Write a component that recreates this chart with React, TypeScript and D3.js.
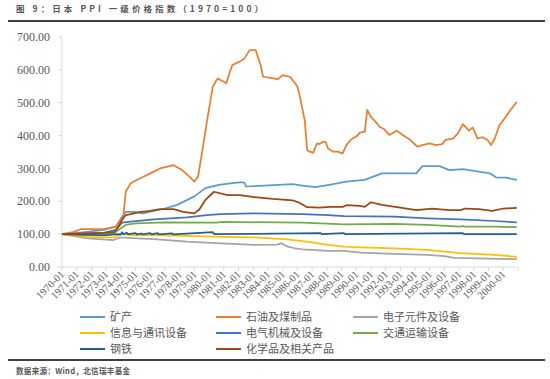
import React from "react";
import * as d3 from "d3";

const START_YEAR = 1970;
const N_MONTHS = 372;
const yTicks = [0, 100, 200, 300, 400, 500, 600, 700];
const tickLabels = d3.range(1970, 2001).map((y) => `${y}-01`);

const mining: [string, number][] = [
  ["1970-01", 100], ["1970-11", 102], ["1972-11", 113], ["1973-09", 123], ["1974-02", 153],
  ["1974-05", 168], ["1974-12", 168], ["1975-07", 163], ["1977-01", 178], ["1977-11", 189],
  ["1979-01", 215], ["1979-10", 240], ["1980-09", 250], ["1981-08", 255], ["1982-04", 258],
  ["1982-06", 256], ["1982-07", 245], ["1983-06", 247], ["1985-09", 252], ["1986-05", 248],
  ["1987-04", 243], ["1988-03", 250], ["1989-05", 260], ["1990-08", 265], ["1991-03", 275],
  ["1991-10", 285], ["1994-02", 285], ["1994-07", 307], ["1995-09", 307], ["1996-05", 295],
  ["1997-04", 298], ["1999-02", 285], ["1999-07", 273], ["2000-03", 272], ["2000-12", 265],
];

const petroleum: [string, number][] = [
  ["1970-01", 100], ["1970-11", 107], ["1971-04", 115], ["1972-11", 115], ["1973-09", 123],
  ["1974-03", 153], ["1974-05", 229], ["1974-09", 255], ["1975-02", 265], ["1976-01", 285],
  ["1976-09", 300], ["1977-08", 310], ["1978-03", 295], ["1978-09", 275], ["1979-01", 260],
  ["1979-04", 275], ["1979-08", 366], ["1979-11", 437], ["1980-04", 549], ["1980-08", 574],
  ["1981-01", 564], ["1981-03", 559], ["1981-06", 594], ["1981-08", 615], ["1982-02", 625],
  ["1982-06", 635], ["1982-10", 660], ["1983-03", 660], ["1983-07", 615], ["1983-09", 579],
  ["1984-06", 574], ["1984-09", 571], ["1985-01", 584], ["1985-07", 579], ["1986-01", 550],
  ["1986-03", 520], ["1986-07", 447], ["1986-09", 356], ["1986-11", 351], ["1987-02", 348],
  ["1987-05", 376], ["1987-07", 374], ["1987-10", 381], ["1987-12", 381], ["1988-02", 361],
  ["1988-06", 351], ["1988-10", 351], ["1989-02", 346], ["1989-05", 371], ["1989-09", 389],
  ["1990-01", 397], ["1990-04", 409], ["1990-08", 412], ["1990-10", 478], ["1991-01", 457],
  ["1991-06", 437], ["1991-08", 427], ["1991-12", 419], ["1992-04", 402], ["1992-10", 415],
  ["1993-03", 402], ["1993-09", 387], ["1994-03", 366], ["1994-07", 371], ["1995-01", 376],
  ["1995-06", 371], ["1995-11", 374], ["1996-02", 387], ["1996-08", 391], ["1996-12", 407],
  ["1997-04", 435], ["1997-09", 415], ["1997-12", 425], ["1998-04", 391], ["1998-08", 395],
  ["1998-12", 387], ["1999-03", 371], ["1999-06", 391], ["1999-10", 432], ["2000-02", 452],
  ["2000-06", 473], ["2000-09", 488], ["2000-12", 503],
];

const electronic: [string, number][] = [
  ["1970-01", 100], ["1971-10", 87], ["1973-07", 82], ["1973-12", 90], ["1975-03", 87],
  ["1976-04", 85], ["1978-07", 77], ["1980-11", 72], ["1983-02", 67], ["1984-08", 68],
  ["1984-12", 72], ["1985-05", 62], ["1985-11", 57], ["1986-05", 54], ["1987-01", 52],
  ["1988-02", 49], ["1989-03", 49], ["1990-05", 44], ["1992-08", 40], ["1994-11", 37],
  ["1996-01", 33], ["1996-09", 28], ["1998-04", 26], ["2000-12", 24],
];

const infoComm: [string, number][] = [
  ["1970-01", 100], ["1971-10", 92], ["1973-07", 90], ["1973-12", 99], ["1974-03", 99],
  ["1974-09", 97], ["1976-04", 97], ["1978-07", 95], ["1980-11", 92], ["1983-02", 90],
  ["1985-05", 84], ["1986-05", 79], ["1987-01", 75], ["1988-02", 67], ["1989-03", 62],
  ["1990-05", 60], ["1992-08", 57], ["1994-11", 52], ["1996-01", 47], ["1997-02", 42],
  ["1999-06", 37], ["2000-12", 31],
];

const electrical: [string, number][] = [
  ["1970-01", 100], ["1972-11", 104], ["1973-09", 113], ["1974-02", 135], ["1974-09", 138],
  ["1976-04", 145], ["1978-07", 151], ["1979-11", 158], ["1980-10", 161], ["1983-01", 163],
  ["1986-05", 161], ["1988-02", 158], ["1989-03", 155], ["1992-08", 153], ["1994-11", 148],
  ["1997-02", 145], ["1999-06", 140], ["2000-12", 136],
];

const transport: [string, number][] = [
  ["1970-01", 100], ["1973-07", 102], ["1974-01", 118], ["1974-05", 128], ["1975-01", 133],
  ["1977-01", 136], ["1980-07", 135], ["1980-12", 137], ["1986-05", 135], ["1989-03", 130],
  ["1992-08", 131], ["1994-11", 128], ["1997-02", 123], ["1997-04", 125], ["1997-05", 123],
  ["1999-06", 123], ["2000-12", 121],
];

const steel: [string, number][] = [
  ["1970-01", 100], ["1971-06", 98], ["1973-01", 97], ["1973-10", 100], ["1974-01", 99],
  ["1974-02", 106], ["1974-03", 100], ["1974-06", 104], ["1974-07", 100], ["1975-01", 103],
  ["1975-02", 99], ["1975-06", 102], ["1975-07", 99], ["1976-01", 103], ["1976-02", 99],
  ["1976-07", 103], ["1976-08", 99], ["1977-07", 102], ["1977-08", 99], ["1980-04", 106],
  ["1980-05", 100], ["1987-08", 103], ["1987-09", 100], ["1989-03", 103], ["1989-04", 100],
  ["1997-04", 103], ["1997-05", 100], ["2000-12", 100],
];

const chemicals: [string, number][] = [
  ["1970-01", 100], ["1972-11", 104], ["1973-08", 107], ["1973-11", 123], ["1974-02", 143],
  ["1974-05", 158], ["1974-09", 161], ["1975-04", 167], ["1976-01", 171], ["1976-09", 176],
  ["1977-08", 176], ["1978-04", 168], ["1979-01", 163], ["1979-05", 175], ["1979-10", 204],
  ["1980-05", 229], ["1981-04", 219], ["1982-02", 219], ["1983-02", 213], ["1984-05", 207],
  ["1985-09", 203], ["1986-03", 195], ["1986-09", 182], ["1987-07", 181], ["1988-04", 183],
  ["1989-02", 183], ["1989-05", 188], ["1990-04", 186], ["1990-08", 183], ["1991-01", 197],
  ["1991-10", 189], ["1993-01", 181], ["1994-02", 173], ["1995-03", 178], ["1996-05", 173],
  ["1997-02", 173], ["1997-06", 178], ["1998-05", 176], ["1999-04", 171], ["2000-01", 178],
  ["2000-12", 180],
];

const seriesNames = ["矿产", "石油及煤制品", "电子元件及设备", "信息与通讯设备", "电气机械及设备", "交通运输设备", "钢铁", "化学品及相关产品"];
const seriesData = [mining, petroleum, electronic, infoComm, electrical, transport, steel, chemicals];
const colors = ["#5B9BD5", "#ED7D31", "#A5A5A5", "#FFC000", "#4472C4", "#70AD47", "#255E91", "#9E480E"];

const monthIndex = (s: string) => {
  const [y, m] = s.split("-").map(Number);
  return (y - START_YEAR) * 12 + (m - 1);
};

export default function App() {
  const W = 550, H = 379;
  const left = 62, right = 518, top = 37, bottom = 267;
  const x = d3.scaleLinear().domain([0, N_MONTHS]).range([left, right]);
  const y = d3.scaleLinear().domain([0, 700]).range([bottom, top]);
  const line = d3.line<[string, number]>().x((d) => x(monthIndex(d[0]))).y((d) => y(d[1]));
  const axisColor = "#D9D9D9";
  const textColor = "#595959";
  const legendCols = [80, 216, 353];
  const legendRows = [317, 333, 349];

  return (
    <svg width={W} height={H} style={{ position: "absolute", left: 0, top: 0, background: "#fff" }} fontFamily="'Liberation Serif', serif">
      <rect width={W} height={H} fill="#fff" />
      <text x={16} y={12} fontSize={8.5} fontWeight="bold" fill="#555" fontFamily="'Noto Sans CJK SC', sans-serif" textLength={247} lengthAdjust="spacing">
        图 9：日本 PPI 一级价格指数（1970=100）
      </text>
      <line x1={8} x2={545} y1={21} y2={21} stroke="#404040" strokeWidth={2} />

      {/* y axis */}
      <line x1={left} x2={left} y1={top} y2={bottom} stroke={axisColor} />
      {yTicks.map((t) => (
        <g key={t}>
          <line x1={left - 4} x2={left} y1={y(t)} y2={y(t)} stroke={axisColor} />
          <text x={50} y={y(t)} dy="0.35em" textAnchor="end" fontSize={12} fill={textColor}>
            {t.toFixed(2)}
          </text>
        </g>
      ))}

      {/* x axis */}
      <line x1={left} x2={right} y1={bottom} y2={bottom} stroke={axisColor} />
      {d3.range(0, N_MONTHS + 1, 12).map((i) => (
        <line key={i} x1={x(i)} x2={x(i)} y1={bottom} y2={bottom + 4} stroke={axisColor} />
      ))}
      {tickLabels.map((lab, k) => (
        <text key={lab} transform={`translate(${x(k * 12) + 3},${bottom + 8}) rotate(-45)`} textAnchor="end" fontSize={10.5} fill={textColor}>
          {lab}
        </text>
      ))}

      {/* series */}
      {seriesData.map((d, k) => (
        <path key={k} d={line(d) || ""} fill="none" stroke={colors[k]} strokeWidth={1.75} strokeLinejoin="round" />
      ))}

      {/* legend */}
      {seriesNames.map((name, k) => {
        const cx = legendCols[k % 3];
        const cy = legendRows[Math.floor(k / 3)];
        return (
          <g key={name}>
            <line x1={cx} x2={cx + 25} y1={cy} y2={cy} stroke={colors[k]} strokeWidth={2} />
            <text x={cx + 30} y={cy} dy="0.35em" fontSize={11} fill={textColor} fontFamily="'Noto Sans CJK SC', sans-serif">
              {name}
            </text>
          </g>
        );
      })}

      <line x1={8} x2={545} y1={360} y2={360} stroke="#404040" strokeWidth={2} />
      <text x={16} y={374} fontSize={7.5} fontWeight="bold" fill="#555" fontFamily="'Noto Sans CJK SC', sans-serif" textLength={114} lengthAdjust="spacing">
        数据来源：Wind，北信瑞丰基金
      </text>
    </svg>
  );
}
